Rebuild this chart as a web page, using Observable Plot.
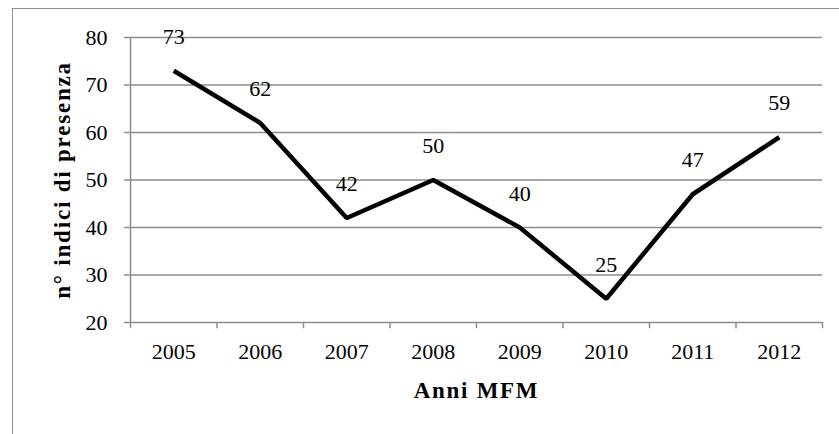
<!DOCTYPE html>
<html>
<head>
<meta charset="utf-8">
<script src="https://cdn.jsdelivr.net/npm/d3@7"></script>
<script src="https://cdn.jsdelivr.net/npm/@observablehq/plot@0.6"></script>
<style>
  html, body { margin: 0; padding: 0; background: #fff; overflow: hidden; }
  #wrap { position: relative; width: 839px; height: 434px; }
  #border { position: absolute; left: 12px; top: 8px; width: 900px; height: 500px; border: 1.5px solid #8c8c8c; box-sizing: border-box; }
  #chart { position: absolute; left: 0; top: 0; }
  #chart svg, #chart svg text { font-family: "Liberation Serif", "Times New Roman", serif !important; }
  .ytitle, .ytitle text, text[aria-label="ytitle"], g[aria-label="ytitle"] text { letter-spacing: 1.8px; }
  .xtitle, .xtitle text, text[aria-label="xtitle"], g[aria-label="xtitle"] text { letter-spacing: 1.7px; }
</style>
</head>
<body>
<div id="wrap"><div id="border"></div><div id="chart"></div></div>
<script>
const years = ["2005", "2006", "2007", "2008", "2009", "2010", "2011", "2012"];
const values = [73, 62, 42, 50, 40, 25, 47, 59];
const yTicks = [20, 30, 40, 50, 60, 70, 80];
const xTitle = "Anni MFM";
const yTitle = "n° indici di presenza";

const data = years.map((yr, i) => ({ yr, i: i + 0.5, v: values[i] }));
const bounds = d3.range(0, years.length + 1);
const font = "Liberation Serif";
const grey = "#8c8c8c";
const fs = 22;

const chart = Plot.plot({
  width: 839,
  height: 434,
  marginLeft: 130,
  marginRight: 17,
  marginTop: 37,
  marginBottom: 112,
  style: { fontFamily: font, fontSize: "22px", color: "#000", background: "transparent" },
  x: { type: "linear", domain: [0, years.length], axis: null },
  y: { type: "linear", domain: [20, 80], axis: null },
  marks: [
    Plot.ruleY(yTicks, { y: d => d, x1: -0.07, x2: years.length, stroke: grey, strokeWidth: 1.5 }),
    Plot.ruleX([0], { x: d => d, y1: 20, y2: 80, stroke: grey, strokeWidth: 1.5 }),
    Plot.text(yTicks, { x: 0, y: d => d, text: d => String(d), textAnchor: "end", dx: -23, fontSize: fs, fontFamily: font }),
    Plot.ruleX(bounds, { x: d => d, y1: 20, y2: 18.7, stroke: grey, strokeWidth: 1.5 }),
    Plot.text(data, { x: "i", y: 20, text: "yr", dy: 29, fontSize: fs, fontFamily: font }),
    Plot.line(data, { x: "i", y: "v", stroke: "#000", strokeWidth: 4.5, strokeLinejoin: "miter", strokeLinecap: "butt" }),
    Plot.text(data, { x: "i", y: "v", text: d => String(d.v), dy: -34, fontSize: fs, fontFamily: font }),
    Plot.text([xTitle], { frameAnchor: "bottom", dy: 75, fontSize: 23, fontWeight: "bold", fontFamily: font, ariaLabel: "xtitle", className: "xtitle" }),
    Plot.text([yTitle], { frameAnchor: "left", dx: -68, rotate: -90, textAnchor: "middle", fontSize: 23, fontWeight: "bold", fontFamily: font, ariaLabel: "ytitle", className: "ytitle" })
  ]
});
document.getElementById("chart").appendChild(chart);
</script>
</body>
</html>
